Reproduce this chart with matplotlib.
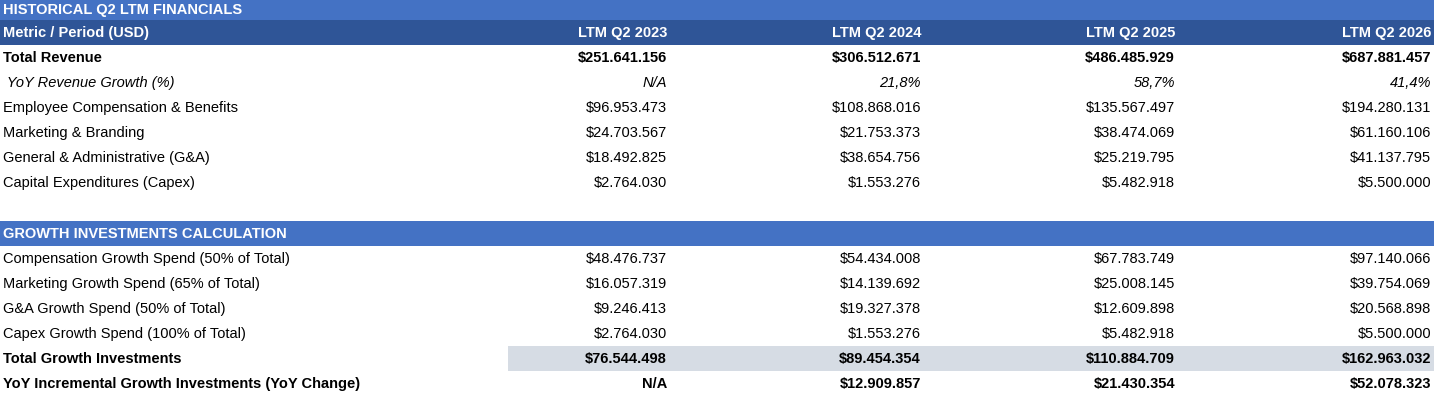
import matplotlib.pyplot as plt
from matplotlib.patches import Rectangle

plt.rcParams['font.family'] = ['Liberation Sans', 'DejaVu Sans']

periods = ['LTM Q2 2023', 'LTM Q2 2024', 'LTM Q2 2025', 'LTM Q2 2026']
hist_labels = ['Total Revenue', ' YoY Revenue Growth (%)', 'Employee Compensation & Benefits',
               'Marketing & Branding', 'General & Administrative (G&A)', 'Capital Expenditures (Capex)']
hist_values = [
    ['$251.641.156', '$306.512.671', '$486.485.929', '$687.881.457'],
    ['N/A', '21,8%', '58,7%', '41,4%'],
    ['$96.953.473', '$108.868.016', '$135.567.497', '$194.280.131'],
    ['$24.703.567', '$21.753.373', '$38.474.069', '$61.160.106'],
    ['$18.492.825', '$38.654.756', '$25.219.795', '$41.137.795'],
    ['$2.764.030', '$1.553.276', '$5.482.918', '$5.500.000'],
]
growth_labels = ['Compensation Growth Spend (50% of Total)', 'Marketing Growth Spend (65% of Total)',
                 'G&A Growth Spend (50% of Total)', 'Capex Growth Spend (100% of Total)',
                 'Total Growth Investments', 'YoY Incremental Growth Investments (YoY Change)']
growth_values = [
    ['$48.476.737', '$54.434.008', '$67.783.749', '$97.140.066'],
    ['$16.057.319', '$14.139.692', '$25.008.145', '$39.754.069'],
    ['$9.246.413', '$19.327.378', '$12.609.898', '$20.568.898'],
    ['$2.764.030', '$1.553.276', '$5.482.918', '$5.500.000'],
    ['$76.544.498', '$89.454.354', '$110.884.709', '$162.963.032'],
    ['N/A', '$12.909.857', '$21.430.354', '$52.078.323'],
]

W, H = 1456, 403
fig = plt.figure(figsize=(W / 100, H / 100), dpi=100)
ax = fig.add_axes([0, 0, 1, 1])
ax.set_xlim(0, W)
ax.set_ylim(H, 0)
ax.axis('off')

col_right = [667, 921, 1175, 1431]
fs = 10.5
light = '#4472C4'
dark = '#2F5597'


def bar(y0, y1, color, x0=0, x1=1434):
    ax.add_patch(Rectangle((x0, y0), x1 - x0, y1 - y0, color=color, lw=0))


def row(y, label, vals, bold=False, italic=False):
    wt = 'bold' if bold else 'normal'
    st = 'italic' if italic else 'normal'
    ax.text(3, y, label, fontsize=fs, weight=wt, style=st, va='center', ha='left')
    for x, v in zip(col_right, vals):
        ax.text(x, y, v, fontsize=fs, weight=wt, style=st, va='center', ha='right')


bar(0, 20, light)
ax.text(3, 10, 'HISTORICAL Q2 LTM FINANCIALS', color='white', weight='bold', fontsize=fs, va='center')
bar(20, 45, dark)
ax.text(3, 33, 'Metric / Period (USD)', color='white', weight='bold', fontsize=fs, va='center')
for x, p in zip(col_right, periods):
    ax.text(x, 33, p, color='white', weight='bold', fontsize=fs, va='center', ha='right')

y = 58
for i, (lab, vals) in enumerate(zip(hist_labels, hist_values)):
    row(y, lab, vals, bold=(i == 0), italic=(i == 1))
    y += 25

bar(221, 246, light)
ax.text(3, 234, 'GROWTH INVESTMENTS CALCULATION', color='white', weight='bold', fontsize=fs, va='center')

bar(346, 371, '#D6DCE4', x0=508)
y = 259
for i, (lab, vals) in enumerate(zip(growth_labels, growth_values)):
    row(y, lab, vals, bold=(i >= 4))
    y += 25

fig.savefig('out.png', dpi=100)
